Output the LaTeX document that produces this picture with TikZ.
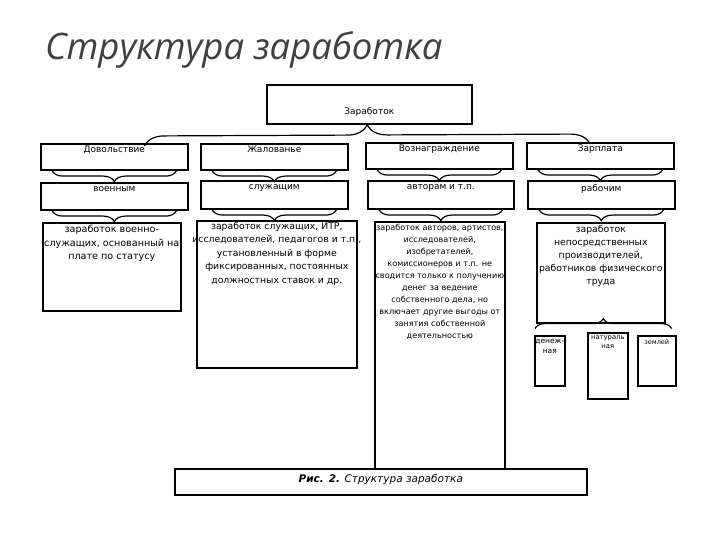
\documentclass[tikz,border=0pt]{standalone}
\usepackage{fontspec}
\setmainfont{DejaVu Sans}
\newfontfamily\headfont{Open Sans}
\usetikzlibrary{positioning,decorations.pathreplacing}

\begin{document}
\begin{tikzpicture}[x=1pt,y=-1pt,
    box/.style={draw,line width=1.6pt,inner sep=0pt,anchor=north west},
    txt/.style={font=\fontsize{9}{13.5}\selectfont,align=center,inner sep=0pt},
    brc/.style={draw,line width=1.2pt,decorate,decoration={brace,amplitude=#1}},
    brc/.default=11pt]
  \useasboundingbox (0,0) rectangle (720,540);
  \node[anchor=base west,inner sep=0pt,text=black!75,font=\headfont\itshape\fontsize{36.5}{40}\selectfont] (title) at (45,60) {Структура заработка};

  \node[box,minimum width=205pt,minimum height=39pt] (zar) at (266,84) {};
  \node[txt,above=8pt of zar.south] (zart) {Заработок};

  % first row
  \node[box,minimum width=147pt,minimum height=26pt] (dov) at (40,143) {};
  \node[box,minimum width=147pt,minimum height=26pt] (zhal) at (200,143) {};
  \node[box,minimum width=147pt,minimum height=26pt] (voz) at (365,142) {};
  \node[box,minimum width=147pt,minimum height=26pt] (zp) at (526,142) {};
  \node[txt,below=3pt of dov.north] {Довольствие};
  \node[txt,below=3pt of zhal.north] {Жалованье};
  \node[txt,below=3pt of voz.north] {Вознаграждение};
  \node[txt,below=3pt of zp.north] {Зарплата};

  % second row
  \node[box,minimum width=147pt,minimum height=27pt] (voen) at (40,182) {};
  \node[box,minimum width=147pt,minimum height=28pt] (sluzh) at (200,180) {};
  \node[box,minimum width=146pt,minimum height=28pt] (avtr) at (367,180) {};
  \node[box,minimum width=147pt,minimum height=28pt] (rabch) at (527,180) {};
  \node[txt,below=4pt of voen.north] {военным};
  \node[txt,below=4pt of sluzh.north] {служащим};
  \node[txt,below=4pt of avtr.north] {авторам и т.п.};
  \node[txt,below=4pt of rabch.north] {рабочим};

  % third row
  \node[box,minimum width=138pt,minimum height=88pt] (zvoen) at (42,222) {};
  \node[box,minimum width=160pt,minimum height=147pt] (zsl) at (196,220) {};
  \node[box,minimum width=130pt,minimum height=247pt] (zavt) at (374,221) {};
  \node[box,minimum width=128pt,minimum height=100pt] (zrab) at (536,222) {};
  \node[txt,font=\fontsize{9.6}{13.5}\selectfont,below=3pt of zvoen.north] {заработок военно-\\служащих, основанный на\\плате по статусу};
  \node[txt,font=\fontsize{9.3}{13.5}\selectfont,below=2pt of zsl.north] {заработок служащих, ИТР,\\исследователей, педагогов и т.п.,\\установленный в форме\\фиксированных, постоянных\\должностных ставок и др.};
  \node[txt,font=\fontsize{8.1}{12}\selectfont,below=3pt of zavt.north] {заработок авторов, артистов,\\исследователей,\\изобретателей,\\комиссионеров и т.п. не\\сводится только к получению\\денег за ведение\\собственного дела, но\\включает другие выгоды от\\занятия собственной\\деятельностью};
  \node[txt,font=\fontsize{9.3}{13}\selectfont,below=3pt of zrab.north] {заработок\\непосредственных\\производителей,\\работников физического\\труда};

  % kinds of wages
  \node[box,minimum width=30pt,minimum height=50pt] (den) at (534,335) {};
  \node[box,minimum width=40pt,minimum height=66pt] (nat) at (587,332) {};
  \node[box,minimum width=38pt,minimum height=50pt] (zem) at (637,335) {};
  \node[txt,font=\fontsize{7.5}{10}\selectfont,below=4pt of den.north] {денеж-\\ная};
  \node[txt,font=\fontsize{6.8}{9}\selectfont,below=3pt of nat.north] {натураль\\ная};
  \node[txt,font=\fontsize{6.5}{9}\selectfont,below=4pt of zem.north] {землей};

  \node[box,minimum width=412pt,minimum height=26pt] (cap) at (174,468) {};
  \node[txt,font=\fontsize{10.5}{12}\selectfont\itshape,above=-3pt of cap.center] {\textbf{Рис. 2.} Структура заработка};

  % braces
  \draw[brc=20pt] ([xshift=30pt,yshift=-3pt]dov.north) -- ([xshift=-10pt,yshift=-2pt]zp.north);
  \foreach \n in {dov,zhal,voz,zp,voen,sluzh,avtr,rabch}
    \draw[brc] ([xshift=-12pt]\n.south east) -- ([xshift=12pt]\n.south west);
  \draw[brc=10pt] ([xshift=-1pt,yshift=-5pt]zrab.south west) -- ([xshift=6pt,yshift=-5pt]zrab.south east);
\end{tikzpicture}
\end{document}
